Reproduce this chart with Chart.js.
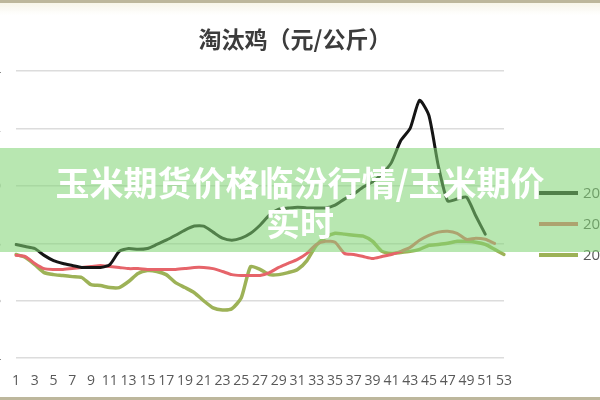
<!DOCTYPE html>
<html>
<head>
<meta charset="utf-8">
<script src="https://cdn.jsdelivr.net/npm/chart.js@4/dist/chart.umd.min.js"></script>
<style>
  html, body { margin: 0; padding: 0; background: #fff; }
  body { width: 600px; height: 400px; position: relative; overflow: hidden; }
  #chart { position: absolute; left: -40px; top: 0; }
  .edge { position: absolute; left: 0; width: 600px; height: 3px; background: #bdb79c; }
  .fade { position: absolute; left: 0; top: 3px; width: 600px; height: 12px;
          background: linear-gradient(#f7f5e9, rgba(255,255,255,0)); }
  #title { position: absolute; left: 0; top: 23px; width: 590px; text-align: center;
           font-family: "Noto Sans CJK SC", sans-serif; font-size: 23px; line-height: 30px;
           color: #3c3c3c; font-weight: bold; }
  #banner { position: absolute; left: 0; top: 148px; width: 600px; height: 104px;
            background: rgba(128, 212, 116, 0.56); color: #fff; text-align: center;
            font-family: "Noto Sans CJK SC", sans-serif; font-weight: bold;
            font-size: 34px; line-height: 40px; padding-top: 14px; box-sizing: border-box; }
</style>
</head>
<body>
<canvas id="chart" width="700" height="400"></canvas>
<div class="edge" style="top:0"></div>
<div class="fade"></div>
<div class="edge" style="top:397px"></div>
<div id="title">淘汰鸡（元/公斤）</div>
<div id="banner">玉米期货价格临汾行情/玉米期价<br>实时</div>
<script>
// weeks of the year
const weeks = ['1','2','3','4','5','6','7','8','9','10','11','12','13','14','15','16','17','18','19','20',
  '21','22','23','24','25','26','27','28','29','30','31','32','33','34','35','36','37','38','39','40',
  '41','42','43','44','45','46','47','48','49','50','51','52','53'];

const seriesNames = ['2021', '2022', '2023'];
const seriesColors = ['#151515', '#e6646a', '#9db257'];

// 淘汰鸡价格 (元/公斤)
const price2021 = [7.96, 7.89, 7.82, 7.58, 7.40, 7.30, 7.23, 7.16, 7.16, 7.16, 7.26, 7.72, 7.82, 7.79, 7.82,
  7.96, 8.11, 8.28, 8.46, 8.60, 8.60, 8.39, 8.18, 8.11, 8.18, 8.35, 8.63, 8.98, 9.19, 9.23, 9.26, 9.23,
  9.23, 9.23, 9.33, 9.54, 9.72, 9.96, 10.14, 10.42, 10.81, 11.58, 12.0, 12.98, 12.45, 10.7, 9.47, 9.54,
  9.61, 8.95, 8.32];
const price2022 = [7.58, 7.54, 7.30, 7.12, 7.09, 7.09, 7.12, 7.16, 7.19, 7.23, 7.19, 7.16, 7.12, 7.12, 7.09,
  7.09, 7.09, 7.09, 7.12, 7.16, 7.16, 7.12, 7.02, 6.91, 6.88, 6.88, 6.88, 6.98, 7.16, 7.30, 7.44, 7.65,
  7.96, 8.07, 8.04, 7.65, 7.61, 7.54, 7.47, 7.54, 7.61, 7.72, 7.86, 8.11, 8.28, 8.39, 8.42, 8.35, 8.14,
  8.18, 8.14, 8.00];
const price2023 = [7.61, 7.51, 7.26, 6.98, 6.91, 6.88, 6.84, 6.81, 6.56, 6.53, 6.46, 6.46, 6.67, 6.95, 7.05,
  7.02, 6.91, 6.63, 6.46, 6.28, 6.00, 5.75, 5.68, 5.72, 6.10, 7.19, 7.09, 6.91, 6.91, 6.98, 7.09, 7.40,
  7.93, 8.21, 8.35, 8.32, 8.28, 8.25, 8.07, 7.72, 7.65, 7.68, 7.72, 7.79, 7.93, 7.96, 8.00, 8.07, 8.07,
  8.04, 7.96, 7.79, 7.61];

const yTicks = [4, 6, 8, 10, 12, 14];

// simple line legend on the right, clipped by the page edge like the original
const sideLegend = {
  id: 'sideLegend',
  afterDraw(chart) {
    const {ctx, chartArea} = chart;
    ctx.save();
    ctx.font = '15px "Open Sans", sans-serif';
    ctx.textBaseline = 'middle';
    chart.data.datasets.forEach((ds, i) => {
      const y = chartArea.top + 122 + i * 31;
      const x = chartArea.right + 35;
      ctx.strokeStyle = ds.borderColor;
      ctx.lineWidth = 4;
      ctx.beginPath();
      ctx.moveTo(x, y);
      ctx.lineTo(x + 39, y);
      ctx.stroke();
      ctx.fillStyle = '#595959';
      ctx.fillText(ds.label, x + 44, y + 1);
    });
    ctx.restore();
  }
};

const ctx = document.getElementById('chart').getContext('2d');
const chart = new Chart(ctx, {
  type: 'line',
  data: {
    labels: weeks,
    datasets: [
      { label: seriesNames[0], data: price2021, borderColor: seriesColors[0], borderWidth: 3 },
      { label: seriesNames[1], data: price2022, borderColor: seriesColors[1], borderWidth: 3 },
      { label: seriesNames[2], data: price2023, borderColor: seriesColors[2], borderWidth: 3.5 },
    ],
  },
  options: {
    responsive: false,
    animation: false,
    devicePixelRatio: 1,
    layout: { padding: { left: 0, right: 156, top: 71, bottom: 5 } },
    elements: {
      point: { radius: 0 },
      line: { tension: 0.2, borderCapStyle: 'round', borderJoinStyle: 'round' },
    },
    plugins: {
      legend: { display: false },
      tooltip: { enabled: false },
    },
    scales: {
      x: {
        grid: { display: false },
        border: { display: false },
        ticks: {
          autoSkip: false,
          maxRotation: 0,
          padding: 6,
          color: '#595959',
          font: { family: '"Open Sans", sans-serif', size: 14 },
          callback: (v, i) => (i % 2 === 0 ? weeks[i] : ''),
        },
      },
      y: {
        min: yTicks[0],
        max: yTicks[yTicks.length - 1],
        afterFit: (s) => { s.width = 56; },
        afterBuildTicks: (s) => { s.ticks = yTicks.map(v => ({ value: v })); },
        grid: { color: '#dcdcdc', lineWidth: 1.5, drawTicks: false },
        border: { display: false },
        ticks: { padding: 15, color: '#595959', font: { family: '"Open Sans", sans-serif', size: 13 } },
      },
    },
  },
  plugins: [sideLegend],
});
</script>
</body>
</html>
